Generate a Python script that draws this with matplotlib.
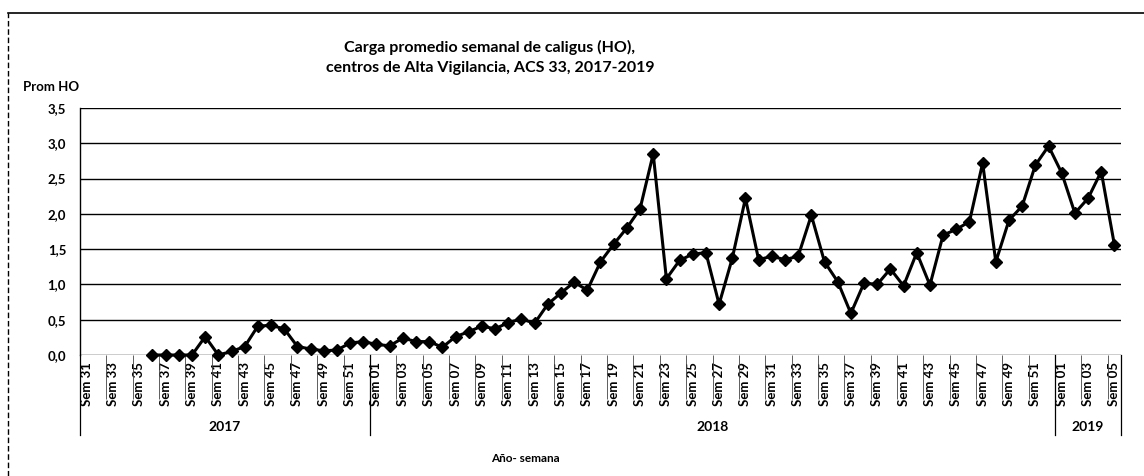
import numpy as np
import matplotlib
matplotlib.use("Agg")
import matplotlib.pyplot as plt
from matplotlib.lines import Line2D
import matplotlib.transforms as mtransforms

plt.rcParams['font.family'] = ['Lato', 'DejaVu Sans']

# ---- data ----
weeks_2017 = list(range(31, 53))
weeks_2018 = list(range(1, 53))
weeks_2019 = list(range(1, 6))

vals_2017 = [np.nan, np.nan, np.nan, np.nan, np.nan,
             0.0, 0.0, 0.0, 0.0, 0.26, 0.0, 0.05, 0.12, 0.41, 0.42, 0.37,
             0.12, 0.085, 0.06, 0.07, 0.17, 0.19]
vals_2018 = [0.15, 0.13, 0.24, 0.19, 0.19, 0.11, 0.26, 0.33, 0.41, 0.37,
             0.46, 0.51, 0.45, 0.72, 0.88, 1.03, 0.92, 1.32, 1.57, 1.80,
             2.07, 2.85, 1.08, 1.34, 1.43, 1.45, 0.72, 1.37, 2.22, 1.35,
             1.40, 1.35, 1.40, 1.98, 1.32, 1.04, 0.59, 1.02, 1.00, 1.22,
             0.98, 1.45, 0.99, 1.70, 1.78, 1.89, 2.72, 1.32, 1.91, 2.11,
             2.69, 2.96]
vals_2019 = [2.58, 2.01, 2.22, 2.60, 1.56]

years = ["2017", "2018", "2019"]
y_ticks = [0.0, 0.5, 1.0, 1.5, 2.0, 2.5, 3.0, 3.5]

title = "Carga promedio semanal de caligus (HO),\ncentros de Alta Vigilancia, ACS 33, 2017-2019"
y_label = "Prom HO"
x_label = "Año- semana"

# ---- build ----
week_lists = [weeks_2017, weeks_2018, weeks_2019]
labels = [f"Sem {w:02d}" for wl in week_lists for w in wl]
values = np.array(vals_2017 + vals_2018 + vals_2019, dtype=float)
n = len(labels)
x = np.arange(n)

W, H = 1144, 476
fig = plt.figure(figsize=(W / 100, H / 100), dpi=100)
ax = fig.add_axes([80 / W, 1 - 355 / H, (1121 - 80) / W, (355 - 108) / H])

ax.set_xlim(-0.5, n - 0.5)
ax.set_ylim(0, 3.5)

for yv in y_ticks:
    ax.axhline(yv, color='black', lw=1.0, zorder=1)

ax.plot(x, values, color='black', lw=2.2, marker='D', markersize=6.5,
        markerfacecolor='black', markeredgecolor='black', zorder=3,
        clip_on=False)

for s in ['top', 'right', 'bottom']:
    ax.spines[s].set_visible(False)
ax.spines['left'].set_color('black')
ax.spines['left'].set_linewidth(1.0)

ax.set_yticks(y_ticks)
ax.set_yticklabels([f"{v:.1f}".replace('.', ',') for v in y_ticks],
                   fontsize=9.5, fontweight='bold')
ax.tick_params(axis='y', length=0, pad=10)

ax.set_xticks(x[::2])
ax.set_xticklabels(labels[::2], rotation=90, fontsize=9.5, fontweight='bold',
                   va='top')
ax.tick_params(axis='x', which='major', length=0, pad=5)
ax.set_xticks(np.arange(-0.5, n, 2), minor=True)
ax.tick_params(axis='x', which='minor', length=32, width=0.6, color='#444444',
               direction='out')

trans = mtransforms.blended_transform_factory(ax.transData, ax.transAxes)
starts = [0, len(weeks_2017), len(weeks_2017) + len(weeks_2018), n]
for b in starts:
    ax.plot([b - 0.5, b - 0.5], [0, -80 / 247], color='black', lw=0.9,
            transform=trans, clip_on=False)
for i, yr in enumerate(years):
    mid = (starts[i] + starts[i + 1] - 1) / 2
    ax.text(mid, -72 / 247, yr, transform=trans, ha='center', va='center',
            fontsize=10, fontweight='bold')

fig.text(490 / W, 1 - 57 / H, title, ha='center', va='center',
         fontsize=11.5, fontweight='bold', linespacing=1.55)
fig.text(23 / W, 1 - 87 / H, y_label, ha='left', va='center',
         fontsize=9.5, fontweight='bold')
fig.text(525 / W, 1 - 458 / H, x_label, ha='center', va='center',
         fontsize=8.5, fontweight='bold')

fig.add_artist(Line2D([8 / W, 1], [1 - 13 / H, 1 - 13 / H], color='black',
                      lw=1.2, transform=fig.transFigure))
fig.add_artist(Line2D([8 / W, 8 / W], [0, 1 - 13 / H], color='black',
                      lw=1.0, ls=(0, (4, 2)), transform=fig.transFigure))

fig.savefig("out.png", dpi=100)
